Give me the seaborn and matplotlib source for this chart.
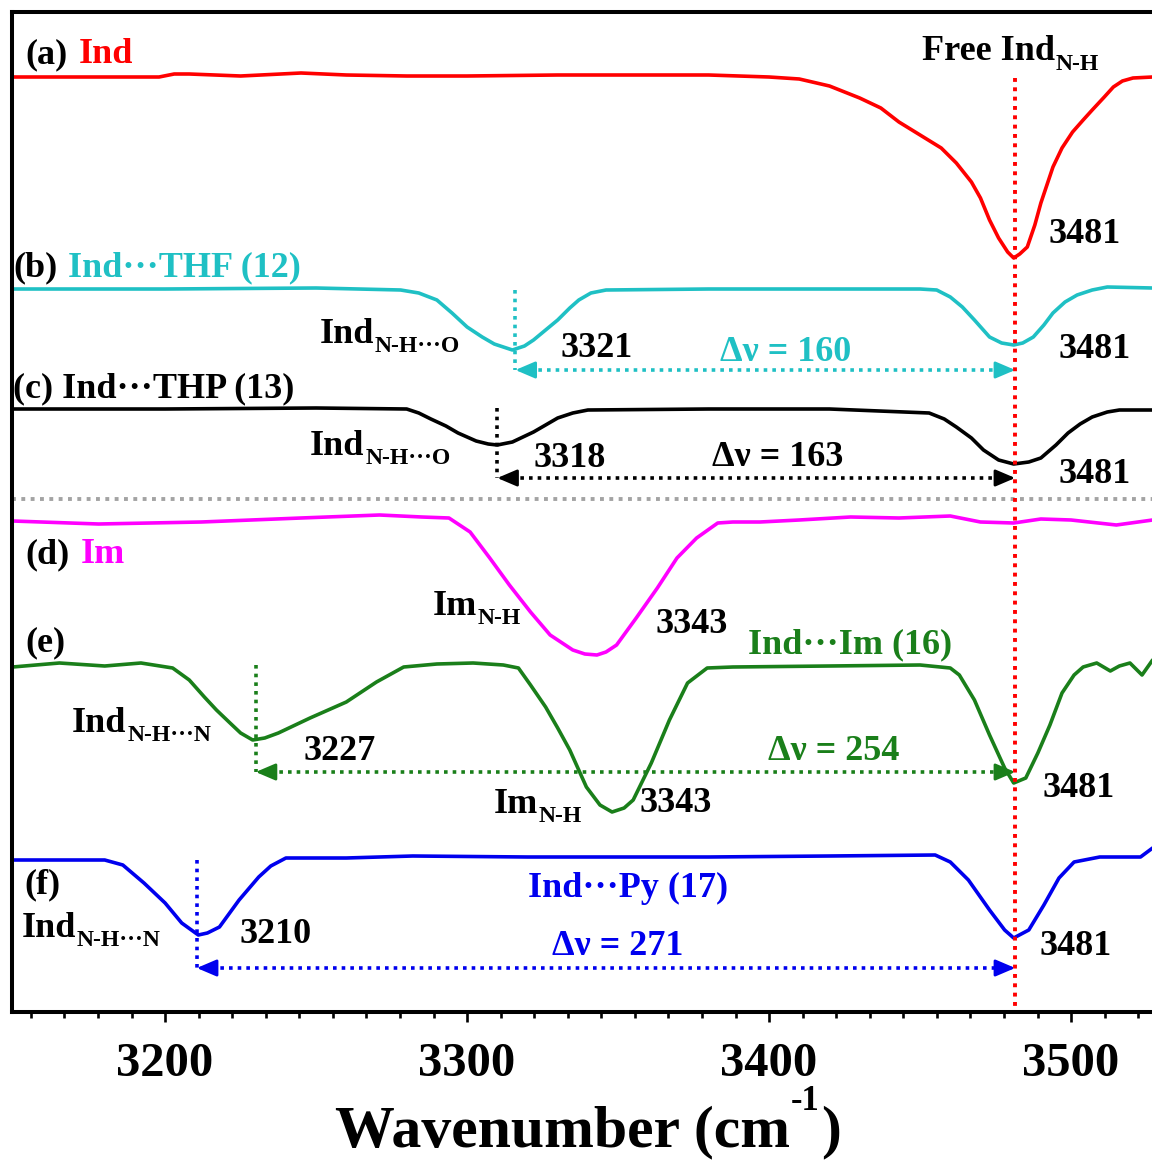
import numpy as np
import pandas as pd
import matplotlib
matplotlib.use("Agg")
import matplotlib.pyplot as plt
import seaborn as sns
from matplotlib.ticker import AutoMinorLocator

# ---------------- data (wavenumber in cm-1, offset transmittance in a.u.) -------------
ind_w = [3149.5, 3165, 3198, 3203, 3208, 3225, 3245, 3260, 3280, 3300, 3330, 3360, 3380, 3400,
         3410, 3420, 3430, 3437, 3443, 3450, 3457, 3462, 3467, 3470, 3473, 3476, 3479, 3481,
         3483, 3485.5, 3488, 3490, 3492, 3494, 3497, 3500.5, 3504, 3507, 3511, 3514, 3517,
         3520.5, 3527]
ind_t = [9.35, 9.35, 9.35, 9.38, 9.38, 9.36, 9.39, 9.37, 9.36, 9.36, 9.37, 9.37, 9.37, 9.35,
         9.33, 9.26, 9.14, 9.04, 8.90, 8.77, 8.64, 8.49, 8.30, 8.14, 7.92, 7.74, 7.60, 7.54,
         7.58, 7.65, 7.87, 8.09, 8.27, 8.45, 8.64, 8.80, 8.92, 9.02, 9.15, 9.25, 9.31,
         9.34, 9.35]

thf_w = [3149.5, 3200, 3250, 3278, 3284, 3290, 3295, 3300, 3305, 3309, 3315, 3319, 3322, 3326,
         3330, 3334, 3337, 3341, 3346, 3380, 3420, 3450, 3455.5, 3460, 3464, 3468, 3473, 3477,
         3481, 3484, 3487.5, 3491, 3494, 3498, 3502, 3507, 3512, 3527]
thf_t = [7.23, 7.23, 7.24, 7.22, 7.19, 7.12, 6.99, 6.85, 6.75, 6.68, 6.62, 6.66, 6.72, 6.82,
         6.92, 7.04, 7.12, 7.19, 7.22, 7.23, 7.23, 7.23, 7.22, 7.15, 7.05, 6.92, 6.75, 6.69,
         6.67, 6.69, 6.75, 6.87, 6.99, 7.10, 7.17, 7.22, 7.25, 7.24]

thp_w = [3149.5, 3200, 3250, 3280, 3284, 3288, 3293, 3297, 3303, 3307, 3310, 3315, 3322, 3326,
         3330, 3335, 3340, 3380, 3420, 3453, 3458, 3462, 3467, 3471, 3476, 3481, 3486, 3490,
         3495, 3499, 3503, 3507, 3512, 3516, 3527]
thp_t = [6.03, 6.03, 6.04, 6.03, 5.99, 5.93, 5.86, 5.79, 5.71, 5.68, 5.67, 5.70, 5.80, 5.87,
         5.94, 5.99, 6.02, 6.03, 6.03, 5.99, 5.93, 5.85, 5.74, 5.62, 5.52, 5.48, 5.50, 5.54,
         5.67, 5.79, 5.88, 5.95, 6.00, 6.02, 6.02]

im_w = [3149.5, 3178, 3212, 3245, 3271, 3285, 3294, 3301, 3307.5, 3314, 3321, 3327.5, 3335,
        3339, 3343, 3346, 3349.5, 3356, 3363, 3369.5, 3376, 3383, 3388, 3397, 3410, 3427,
        3443, 3460, 3470, 3481, 3490, 3500, 3515, 3527]
im_t = [4.91, 4.88, 4.90, 4.94, 4.97, 4.95, 4.94, 4.80, 4.54, 4.27, 4.00, 3.77, 3.62,
        3.58, 3.57, 3.60, 3.67, 3.94, 4.24, 4.54, 4.74, 4.89, 4.90, 4.90, 4.92, 4.95,
        4.94, 4.96, 4.90, 4.89, 4.93, 4.92, 4.87, 4.92]

indim_w = [3149.5, 3165, 3180, 3192, 3202.5, 3208, 3213, 3217, 3221.5, 3225, 3229, 3233,
           3237.5, 3248, 3260, 3270, 3279, 3290, 3302, 3312, 3317, 3321, 3326, 3330, 3334,
           3339.5, 3344, 3348, 3352, 3355, 3361, 3367, 3373, 3379.5, 3388, 3420, 3450, 3460,
           3463, 3468, 3473, 3478, 3481, 3485, 3489, 3493, 3497, 3501, 3504, 3508.5, 3513,
           3516, 3519.5, 3523.5, 3527]
indim_t = [3.45, 3.49, 3.46, 3.49, 3.44, 3.32, 3.15, 3.02, 2.89, 2.79, 2.72, 2.74, 2.79, 2.94,
           3.10, 3.30, 3.45, 3.48, 3.49, 3.47, 3.44, 3.27, 3.05, 2.84, 2.62, 2.25, 2.07, 2.00,
           2.04, 2.12, 2.49, 2.92, 3.29, 3.44, 3.45, 3.46, 3.47, 3.44, 3.37, 3.12, 2.77, 2.44,
           2.29, 2.34, 2.59, 2.87, 3.19, 3.37, 3.45, 3.49, 3.41, 3.46, 3.49, 3.37, 3.52]

py_w = [3149.5, 3180, 3186, 3193, 3200, 3205.5, 3211, 3214, 3218, 3224.5, 3231, 3235, 3240,
        3260, 3282, 3320, 3380, 3420, 3455, 3460, 3466, 3473, 3478, 3481, 3486, 3491, 3496,
        3501, 3509.5, 3523, 3527]
py_t = [1.52, 1.52, 1.47, 1.29, 1.09, 0.89, 0.77, 0.79, 0.85, 1.12, 1.35, 1.46, 1.54, 1.54,
        1.56, 1.55, 1.55, 1.56, 1.57, 1.50, 1.32, 1.02, 0.82, 0.74, 0.82, 1.07, 1.34, 1.50,
        1.55, 1.55, 1.64]

samples = ["Ind", "Ind···THF", "Ind···THP", "Im", "Ind···Im", "Ind···Py"]
colors = {"Ind": "#ff0000", "Ind···THF": "#1fc0c4", "Ind···THP": "#000000",
          "Im": "#ff00ff", "Ind···Im": "#1a7f1a", "Ind···Py": "#0000ee"}

free_peak = 3481.5
# bonded peak (marker position), baseline level, arrow level, colour key
bonded_x = [3316, 3310, 3230, 3210.5]
bonded_top = [7.22, 6.04, 3.47, 1.52]
arrow_y = [6.42, 5.34, 2.40, 0.44]
bonded_keys = ["Ind···THF", "Ind···THP", "Ind···Im", "Ind···Py"]
divider_y = 5.13

xticks = [3200, 3300, 3400, 3500]

# ---------------- style -----------------
sns.set_theme(style="ticks")
plt.rcParams["font.family"] = ["Liberation Serif", "DejaVu Serif"]
plt.rcParams["font.weight"] = "bold"
plt.rcParams["text.color"] = "black"

W, H = 1152, 1160
fig = plt.figure(figsize=(W / 100, H / 100), dpi=100)
ax = fig.add_axes([12 / W, 1 - 1012 / H, 1140 / W, 1000 / H])

frames = []
for name, w, t in [("Ind", ind_w, ind_t), ("Ind···THF", thf_w, thf_t),
                   ("Ind···THP", thp_w, thp_t), ("Im", im_w, im_t),
                   ("Ind···Im", indim_w, indim_t), ("Ind···Py", py_w, py_t)]:
    frames.append(pd.DataFrame({"wavenumber": w, "signal": t, "sample": name}))
df = pd.concat(frames, ignore_index=True)

sns.lineplot(data=df, x="wavenumber", y="signal", hue="sample", hue_order=samples,
             palette=colors, sort=False, estimator=None, legend=False, lw=2.6, ax=ax)
for ln in ax.get_lines():
    ln.set_solid_joinstyle("round")

DOT = (0, (1, 1.4))
# divider
ax.axhline(divider_y, color="#a3a3a3", lw=2.8, ls=DOT, zorder=1)
# free N-H marker line
ax.plot([free_peak, free_peak], [9.34, 0.05], color="#ff0000", lw=2.8, ls=DOT, zorder=5)

for bx, top, ay, key in zip(bonded_x, bonded_top, arrow_y, bonded_keys):
    c = colors[key]
    ax.plot([bx, bx], [top, ay], color=c, lw=2.6, ls=DOT, zorder=4)
    ax.plot([bx + 2, free_peak - 2], [ay, ay], color=c, lw=2.6, ls=DOT, zorder=4)
    for tip, tail in [(bx, bx + 5), (free_peak, free_peak - 5)]:
        ax.annotate("", xy=(tip, ay), xytext=(tail, ay),
                    arrowprops=dict(arrowstyle="-|>,head_length=0.75,head_width=0.32",
                                    mutation_scale=16, color=c, lw=2.0,
                                    shrinkA=0, shrinkB=0), zorder=6)

FS = 26
SUB = 17


def label(x, y, s, color="black", sub=None, sub_drop=0.09, size=FS):
    t = ax.text(x, y, s, color=color, fontsize=size, fontweight="bold",
                ha="left", va="baseline")
    if sub:
        ax.annotate(sub, xy=(1, y - sub_drop), xycoords=(t, "data"),
                    xytext=(0.5, 0), textcoords="offset points",
                    color=color, fontsize=SUB, fontweight="bold",
                    ha="left", va="baseline")
    return t


def label2(x, y, s1, s2, c2):
    t = ax.text(x, y, s1, color="black", fontsize=FS, fontweight="bold",
                ha="left", va="baseline")
    ax.annotate(s2, xy=(1, y), xycoords=(t, "data"), xytext=(8, 0),
                textcoords="offset points", color=c2, fontsize=FS,
                fontweight="bold", ha="left", va="baseline")
    return t


# (a)
label2(3153.6, 9.49, "(a)", "Ind", colors["Ind"])
label(3450.7, 9.52, "Free Ind", sub="N-H", sub_drop=0.10)
label(3492.4, 7.69, "3481")
# (b)
label2(3149.6, 7.36, "(b)", "Ind···THF (12)", colors["Ind···THF"])
label(3251.3, 6.69, "Ind", sub="N-H···O")
label(3330.8, 6.55, "3321")
label(3383.8, 6.51, "Δν = 160", color=colors["Ind···THF"])
label(3495.7, 6.54, "3481")
# (c)
label(3149.6, 6.15, "(c) Ind···THP (13)")
label(3248.0, 5.57, "Ind", sub="N-H···O")
label(3321.9, 5.45, "3318")
label(3381.1, 5.46, "Δν = 163")
label(3495.7, 5.29, "3481")
# (d)
label2(3153.6, 4.49, "(d)", "Im", colors["Im"])
label(3288.7, 3.97, "Im", sub="N-H")
label(3362.3, 3.79, "3343")
# (e)
label(3153.6, 3.61, "(e)")
label(3393.0, 3.59, "Ind···Im (16)", color=colors["Ind···Im"])
label(3169.2, 2.80, "Ind", sub="N-H···N")
label(3245.9, 2.52, "3227")
label(3399.7, 2.52, "Δν = 254", color=colors["Ind···Im"])
label(3308.9, 1.99, "Im", sub="N-H")
label(3357.0, 2.00, "3343")
label(3490.7, 2.15, "3481")
# (f)
label(3153.3, 1.19, "(f)")
label(3320.2, 1.15, "Ind···Py (17)", color=colors["Ind···Py"])
label(3152.6, 0.75, "Ind", sub="N-H···N")
label(3224.5, 0.69, "3210")
label(3328.1, 0.57, "Δν = 271", color=colors["Ind···Py"])
label(3489.7, 0.57, "3481")

# axes
ax.set_xlim(3149.3, 3526.8)
ax.set_ylim(0, 10)
ax.set_yticks([])
ax.set_xticks(xticks)
ax.set_xticklabels([str(v) for v in xticks])
ax.xaxis.set_minor_locator(AutoMinorLocator(9))
ax.tick_params(axis="x", which="major", direction="out", length=7.5, width=1.9,
               labelsize=35, pad=14, colors="black")
ax.tick_params(axis="x", which="minor", direction="out", length=4, width=1.9,
               colors="black")
for lab in ax.get_xticklabels():
    lab.set_fontweight("bold")
ax.set_xlabel("")
ax.set_ylabel("")
for side in ["left", "top", "bottom"]:
    ax.spines[side].set_linewidth(2.9)
    ax.spines[side].set_color("black")
ax.spines["right"].set_visible(False)

# x-axis title with superscript
XB = -0.134
t1 = ax.text(0.2833, XB, "Wavenumber (cm", transform=ax.transAxes, fontsize=43,
             fontweight="bold", ha="left", va="baseline", color="black", clip_on=False)
t2 = ax.annotate("-1", xy=(1, XB + 0.036), xycoords=(t1, ax.transAxes), xytext=(0.5, 0),
                 textcoords="offset points", fontsize=25, fontweight="bold", color="black",
                 ha="left", va="baseline", annotation_clip=False)
ax.annotate(")", xy=(1, XB), xycoords=(t2, ax.transAxes), xytext=(1, 0),
            textcoords="offset points", fontsize=43, fontweight="bold", color="black",
            ha="left", va="baseline", annotation_clip=False)

fig.savefig("out.png", dpi=100)
